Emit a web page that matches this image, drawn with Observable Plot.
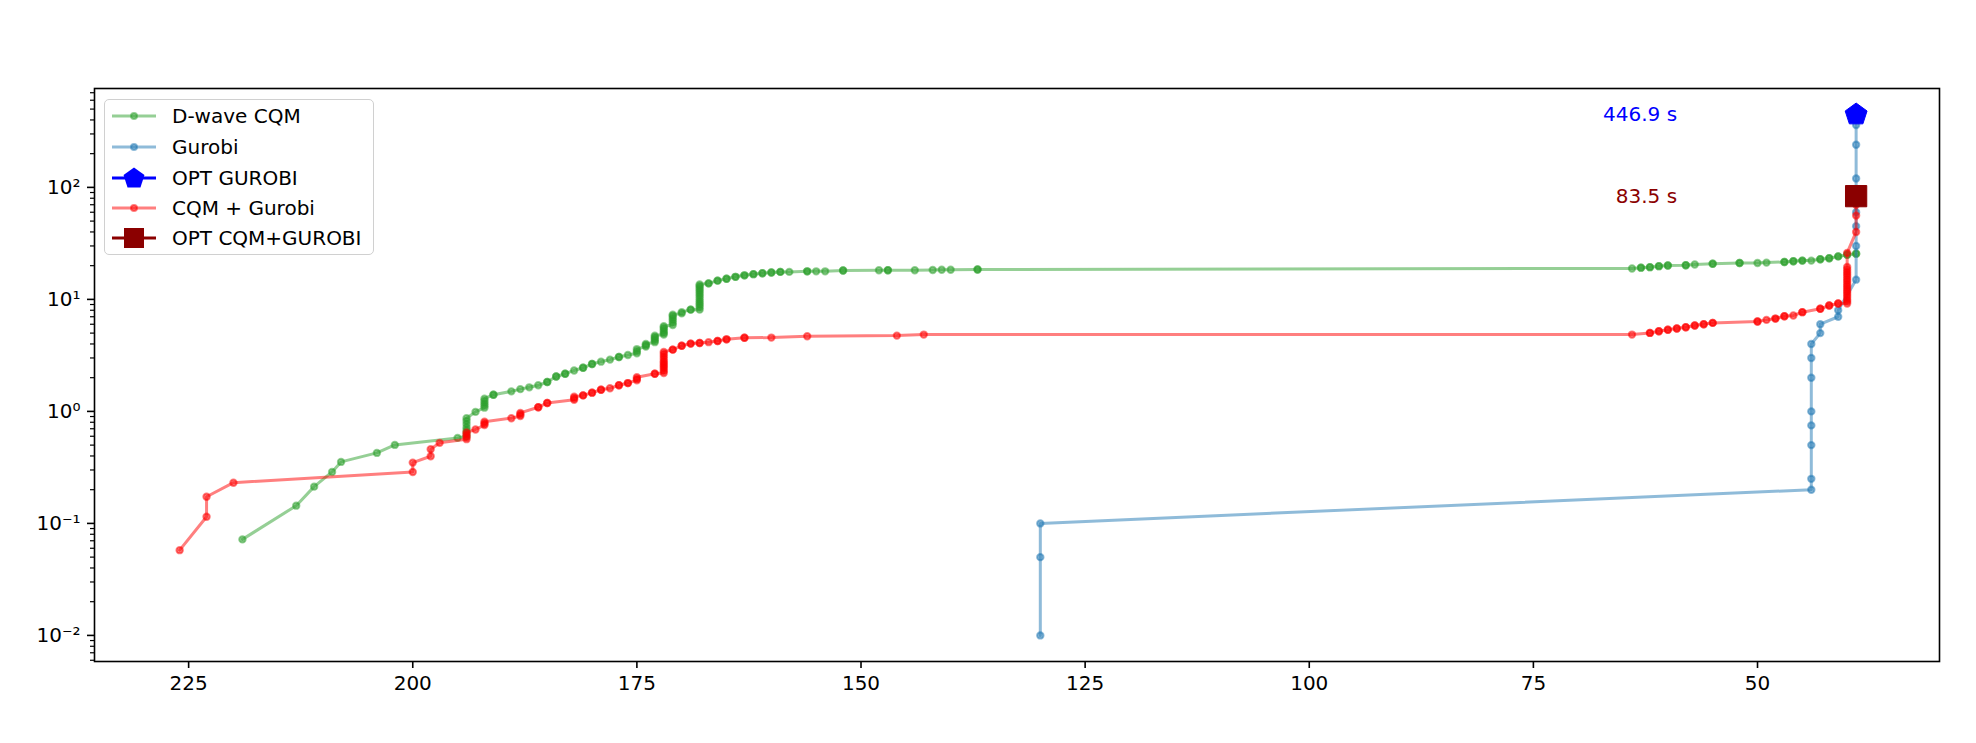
<!DOCTYPE html>
<html><head><meta charset="utf-8">
<script src="https://cdn.jsdelivr.net/npm/d3@7"></script>
<script src="https://cdn.jsdelivr.net/npm/@observablehq/plot@0.6"></script>
<style>
body{margin:0;background:#fff;}
#wrap{position:relative;width:1976px;height:743px;font-family:"DejaVu Sans",sans-serif;}
.legend{position:absolute;left:104px;top:99px;width:270px;height:156px;box-sizing:border-box;border:1.5px solid #d0d0d0;border-radius:5px;background:rgba(255,255,255,0.8);}
.row{position:absolute;left:0;height:30px;display:flex;align-items:center;}
.row svg{position:absolute;left:7px;top:0;}
.row span{position:absolute;left:67px;font-size:20px;white-space:nowrap;color:#000;line-height:30px;top:0;}
</style></head>
<body><div id="wrap"></div>
<script>
// ---- D-wave CQM ----
const cqmX = [219,213,211,209,208,204,202,195,194,194,194,194,194,194,194,193,192,192,192,192,192,191,191,189,188,187,186,185,185,184,184,183,183,182,181,181,180,180,179,178,177,177,176,175,175,175,174,174,174,173,173,173,173,173,172,172,172,172,172,172,171,171,171,171,171,171,170,170,169,169,168,168,168,168,168,168,168,168,168,168,168,168,168,167,167,166,166,165,165,164,164,163,163,162,162,161,161,160,160,159,159,158,156,156,155,154,152,152,148,147,147,144,142,141,140,137,137,64,63,63,62,62,61,61,60,60,58,58,57,55,55,52,52,50,49,47,47,46,46,45,45,44,43,43,42,42,41,41,40,40,39,39];
const cqmY = [0.072,0.144,0.213,0.288,0.354,0.426,0.502,0.58,0.6,0.64,0.68,0.72,0.77,0.82,0.87,0.99,1.08,1.13,1.18,1.24,1.3,1.41,1.41,1.51,1.58,1.64,1.71,1.83,1.83,2.05,2.05,2.17,2.17,2.32,2.45,2.45,2.65,2.65,2.78,2.9,3.06,3.06,3.19,3.3,3.45,3.6,3.8,3.9,4.0,4.15,4.3,4.45,4.6,4.75,4.85,5.0,5.2,5.4,5.6,5.75,5.9,6.2,6.5,6.8,7.1,7.3,7.5,7.7,8.1,8.1,8.1,8.5,8.9,9.3,9.7,10.2,10.7,11.2,11.7,12.2,12.7,13.2,13.6,13.9,13.9,14.7,14.7,15.3,15.3,15.9,15.9,16.4,16.4,16.8,16.8,17.1,17.1,17.4,17.4,17.6,17.6,17.6,17.8,17.8,17.8,17.8,18.1,18.1,18.2,18.2,18.2,18.2,18.3,18.4,18.4,18.5,18.5,18.9,19.2,19.2,19.4,19.4,19.8,19.8,20.1,20.1,20.2,20.2,20.5,20.8,20.8,21.1,21.1,21.1,21.3,21.6,21.6,21.9,21.9,22.2,22.2,22.2,22.8,22.8,23.3,23.3,24.2,24.2,25.0,25.0,25.6,25.6];
// ---- Gurobi ----
const gurX = [130,130,130,44,44,44,44,44,44,44,44,43,43,41,41,39,39,39,39,39,39,39,39];
const gurY = [0.01,0.05,0.1,0.2,0.25,0.5,0.75,1,2,3,4,5,6,7,8,15,30,45,60,120,240,360,446.9];
// ---- CQM + Gurobi ----
const hybX = [226,223,223,220,200,200,198,198,197,194,194,194,194,193,192,192,192,189,188,188,188,186,186,185,185,182,182,182,181,181,180,180,179,179,178,177,177,176,176,175,175,175,173,173,172,172,172,172,172,172,172,172,172,172,172,171,171,170,170,169,169,168,168,167,166,166,165,165,163,163,160,156,146,143,64,62,62,61,61,60,60,59,59,58,58,57,57,56,56,55,55,50,50,49,48,48,47,47,46,45,45,43,43,42,42,41,41,40,40,40,40,40,40,40,40,40,40,40,40,40,40,40,40,40,40,39,39,39,39,39];
const hybY = [0.0577,0.1146,0.173,0.231,0.288,0.349,0.398,0.46,0.524,0.565,0.59,0.62,0.65,0.69,0.755,0.78,0.81,0.87,0.91,0.94,0.97,1.09,1.09,1.19,1.19,1.27,1.31,1.35,1.39,1.39,1.47,1.47,1.56,1.56,1.61,1.71,1.71,1.79,1.79,1.9,1.95,2.02,2.17,2.17,2.2,2.3,2.4,2.5,2.6,2.7,2.8,2.95,3.1,3.25,3.4,3.56,3.56,3.85,3.85,4.03,4.03,4.08,4.08,4.15,4.25,4.25,4.4,4.4,4.55,4.55,4.56,4.69,4.75,4.85,4.85,5.02,5.02,5.2,5.2,5.35,5.35,5.49,5.49,5.64,5.64,5.84,5.84,6.0,6.0,6.17,6.17,6.34,6.34,6.56,6.74,6.74,7.08,7.08,7.18,7.69,7.69,8.24,8.24,8.82,8.82,9.19,9.19,9.2,9.6,10,10.5,11,11.5,12,12.6,13.2,13.8,14.5,15.2,16,16.8,17.6,18.5,19.5,26,40,56,70,83.5];
// ---- optima ----
const optGurobi = {x: 39, y: 446.9, label: "446.9 s"};
const optHybrid = {x: 39, y: 83.5, label: "83.5 s"};
// ---- ticks ----
const xTicks = [225,200,175,150,125,100,75,50];
const yTicks = [0.01,0.1,1,10,100];
const yTickLabels = ["10⁻²","10⁻¹","10⁰","10¹","10²"];

const seriesNames = ["D-wave CQM","Gurobi","OPT GUROBI","CQM + Gurobi","OPT CQM+GUROBI"];
const cGreen = "#2ca02c", cBlue = "#1f77b4", cRed = "#ff0000", cOptBlue = "#0000ff", cDark = "#8b0000";

const toRows = (xs, ys) => xs.map((x, i) => ({x, y: ys[i]}));
const cqm = toRows(cqmX, cqmY), gur = toRows(gurX, gurY), hyb = toRows(hybX, hybY);

const minorTicks = [];
for (const m of [0.001,0.01,0.1,1,10,100]) for (let k = 2; k <= 9; k++) {
  const v = m * k; if (v > 0.00585 && v < 763) minorTicks.push(v);
}

const pentagon = {draw(ctx, size) {
  const r = Math.sqrt(size / Math.PI);
  for (let i = 0; i < 5; i++) {
    const a = -Math.PI / 2 + i * 2 * Math.PI / 5;
    const px = r * Math.cos(a), py = r * Math.sin(a);
    if (i === 0) ctx.moveTo(px, py); else ctx.lineTo(px, py);
  }
  ctx.closePath();
}};
const square = {draw(ctx, size) {
  const h = Math.sqrt(size) / 2;
  ctx.moveTo(-h, -h); ctx.lineTo(h, -h); ctx.lineTo(h, h); ctx.lineTo(-h, h); ctx.closePath();
}};

const seriesMarks = (data, color) => [
  Plot.line(data, {x: "x", y: "y", stroke: color, strokeOpacity: 0.5, strokeWidth: 3, curve: "linear"}),
  Plot.dot(data, {x: "x", y: "y", r: 3.2, fill: color, fillOpacity: 0.5, stroke: color, strokeOpacity: 0.5, strokeWidth: 2})
];

const chart = Plot.plot({
  width: 1976, height: 743,
  marginLeft: 94, marginRight: 37, marginTop: 88, marginBottom: 82,
  style: {fontFamily: "DejaVu Sans", fontSize: "20px", color: "#000", background: "#fff"},
  x: {domain: [235.5, 29.7], axis: null},
  y: {type: "log", domain: [0.00585, 763.5], axis: null},
  marks: [
    ...seriesMarks(cqm, cGreen),
    ...seriesMarks(gur, cBlue),
    Plot.dot([optGurobi], {x: "x", y: "y", symbol: pentagon, r: 11.5, fill: cOptBlue, stroke: cOptBlue, strokeWidth: 1}),
    ...seriesMarks(hyb, cRed),
    Plot.dot([optHybrid], {x: "x", y: "y", symbol: square, r: 12, fill: cDark, stroke: cDark, strokeWidth: 1}),
    Plot.text([optGurobi], {x: "x", y: "y", text: "label", dx: -179, textAnchor: "end", fill: cOptBlue, fontSize: 20}),
    Plot.text([optHybrid], {x: "x", y: "y", text: "label", dx: -179, textAnchor: "end", fill: cDark, fontSize: 20}),
    Plot.axisX({ticks: xTicks, tickSize: 7, tickPadding: 7, strokeWidth: 1.6, label: null, fontSize: 20, tickFormat: d => String(d)}),
    Plot.axisY({ticks: minorTicks, tickSize: 4, strokeWidth: 1.2, label: null, tickFormat: () => ""}),
    Plot.axisY({ticks: yTicks, tickSize: 7, tickPadding: 7, strokeWidth: 1.6, label: null, fontSize: 20, tickFormat: d => yTickLabels[yTicks.indexOf(d)]}),
    Plot.frame({stroke: "#000", strokeWidth: 1.6})
  ]
});

const wrap = document.getElementById("wrap");
wrap.appendChild(chart);

// legend
const legend = document.createElement("div");
legend.className = "legend";
const handles = [
  {color: cGreen, op: 0.5, kind: "dot"},
  {color: cBlue, op: 0.5, kind: "dot"},
  {color: cOptBlue, op: 1, kind: "pent"},
  {color: cRed, op: 0.5, kind: "dot"},
  {color: cDark, op: 1, kind: "sq"}
];
const rowCenters = [16, 47, 77.5, 107.5, 137.5];
seriesNames.forEach((name, i) => {
  const h = handles[i];
  const row = document.createElement("div");
  row.className = "row";
  row.style.top = (rowCenters[i] - 15) + "px";
  let marker;
  if (h.kind === "dot") marker = `<circle cx="22" cy="15" r="3" fill="${h.color}" fill-opacity="0.5" stroke="${h.color}" stroke-opacity="0.5" stroke-width="2"/>`;
  else if (h.kind === "pent") {
    const pts = d3.range(5).map(k => { const a = -Math.PI/2 + k*2*Math.PI/5; return `${22 + 11*Math.cos(a)},${15.5 + 11*Math.sin(a)}`; }).join(" ");
    marker = `<polygon points="${pts}" fill="${h.color}"/>`;
  } else marker = `<rect x="12" y="5" width="20" height="20" fill="${h.color}"/>`;
  row.innerHTML = `<svg width="44" height="30"><line x1="0" x2="44" y1="15" y2="15" stroke="${h.color}" stroke-opacity="${h.op}" stroke-width="3"/>${marker}</svg><span>${name}</span>`;
  legend.appendChild(row);
});
wrap.appendChild(legend);
</script></body></html>
